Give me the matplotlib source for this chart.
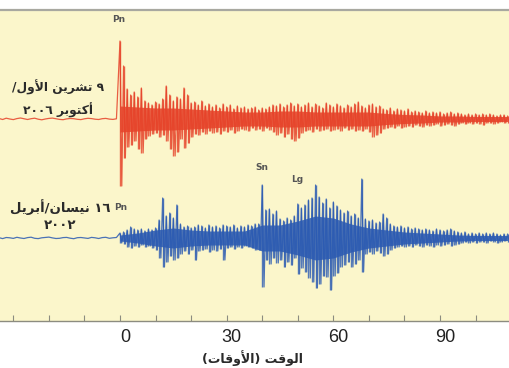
import matplotlib
matplotlib.use("Agg")
import matplotlib.pyplot as plt
import matplotlib.transforms as mtransforms
import numpy as np

# Seismogram envelopes, one bin per second from t = 0 s.
# Values are peak deflections in pixels (up positive, down negative).
red_pre = [0.5, -0.5, 0.8, 0, -0.6, 0.4, 1, 0.2, -0.5, 0.3, 0.8, -0.2, -0.8, 0, 0.6, 0.9, 0.2,
           -0.4, -0.7, 0.1, 0.5, 0.3, -0.3, -0.6, 0.2, 0.7, 0.4, -0.2, -0.5, 0.3, 0.6, -0.1, -0.4, 0.2]
red_up = [78, 53, 30, 24, 27, 22, 31, 18, 16, 14,
          17, 15, 20, 33, 24, 18, 22, 20, 31, 24,
          16, 17, 14, 18, 13, 15, 12, 14, 11, 15,
          12, 14, 10, 13, 11, 12, 10, 11, 12, 9,
          11, 10, 12, 14, 13, 15, 12, 14, 16, 13,
          15, 12, 14, 16, 12, 15, 13, 11, 16, 14,
          12, 15, 13, 11, 14, 12, 15, 17, 13, 11,
          14, 15, 12, 13, 10, 9, 11, 8, 10, 9,
          8, 10, 7, 8, 7, 6, 8, 6, 7, 6,
          7, 5, 6, 7, 5, 6, 5, 4, 5, 4,
          5, 4, 5, 4, 5, 4, 3, 4, 4, 3]
red_lo = [-67, -39, -28, -26, -22, -30, -34, -20, -17, -15,
          -14, -18, -16, -22, -30, -37, -33, -20, -29, -24,
          -18, -15, -16, -13, -15, -12, -14, -13, -15, -12,
          -13, -11, -14, -12, -10, -11, -12, -9, -11, -10,
          -12, -9, -11, -13, -16, -14, -18, -15, -20, -22,
          -19, -14, -12, -11, -13, -10, -12, -11, -10, -12,
          -11, -10, -12, -9, -11, -10, -12, -11, -12, -10,
          -13, -18, -16, -14, -10, -9, -8, -9, -7, -9,
          -8, -7, -8, -6, -7, -8, -6, -7, -6, -5,
          -7, -6, -5, -6, -7, -5, -4, -5, -4, -5,
          -4, -5, -6, -4, -4, -5, -4, -3, -4, -4]
# half-width of the solid core of the trace, every 5 s from t = 0
red_core = [13, 12, 11, 11, 10, 9, 8, 7, 7, 8, 8, 7, 7, 7, 7, 5.5, 4.5, 4, 3, 3, 2.5, 2.5]

blue_pre = [0.3, -0.6, 0.5, 0.2, -0.4, 0.7, 0, -0.5, 0.4, 0.8, -0.3, -0.6, 0.2, 0.5, 0.9, 0.1, -0.5,
            -0.3, 0.4, 0.6, -0.2, -0.7, 0.3, 0.5, 0, -0.4, 0.6, 0.2, -0.5, 0.4, 0.7, -0.3, 0.2, 0.5]
blue_up = [5, 6, 8, 11, 9, 8, 9, 7, 9, 8,
           10, 18, 40, 22, 25, 20, 33, 14, 11, 12,
           10, 11, 13, 12, 10, 13, 11, 12, 10, 13,
           12, 11, 13, 10, 12, 11, 13, 12, 14, 14,
           53, 28, 29, 24, 27, 19, 17, 20, 18, 22,
           34, 30, 33, 38, 40, 53, 41, 35, 39, 30,
           36, 32, 28, 25, 27, 22, 24, 20, 59, 19,
           17, 18, 15, 16, 24, 20, 14, 12, 11, 12,
           10, 11, 9, 10, 9, 8, 9, 8, 7, 9,
           8, 7, 8, 9, 7, 6, 5, 6, 4, 5,
           4, 5, 4, 5, 4, 5, 4, 3, 4, 4]
blue_lo = [-5, -6, -9, -10, -8, -9, -7, -9, -8, -10,
           -12, -20, -29, -24, -18, -22, -20, -16, -13, -16,
           -12, -22, -13, -12, -11, -14, -12, -13, -11, -22,
           -10, -9, -11, -9, -10, -8, -9, -10, -12, -12,
           -49, -22, -26, -20, -25, -22, -29, -24, -27, -20,
           -36, -30, -34, -40, -44, -50, -46, -38, -39, -52,
           -38, -35, -29, -27, -24, -29, -26, -22, -34, -16,
           -14, -16, -13, -15, -18, -16, -12, -10, -9, -8,
           -9, -8, -9, -7, -8, -9, -7, -8, -9, -7,
           -8, -7, -6, -8, -7, -6, -5, -4, -5, -4,
           -5, -4, -4, -5, -3, -4, -5, -4, -3, -4]
blue_core = [3, 5, 8, 10, 8, 7, 7, 7, 13, 13, 17, 22, 20, 14, 10, 8, 6, 5, 4, 3, 2.5, 2.5]

tick_labels = [0, 30, 60, 90]
red_label = "٩ تشرين الأول/\nأكتوبر ٢٠٠٦"
blue_label = "١٦ نيسان/أبريل\n٢٠٠٢"
x_label = "الوقت (الأوقات)"
phases = ["Pn", "Pn", "Sn", "Lg"]

# --- minimal Arabic shaping (matplotlib does no joining / RTL) ---
FORMS = {
    'ا': ('\uFE8D', '\uFE8E', None, None),
    'أ': ('\uFE83', '\uFE84', None, None),
    'ر': ('\uFEAD', '\uFEAE', None, None),
    'و': ('\uFEED', '\uFEEE', None, None),
    'ب': ('\uFE8F', '\uFE90', '\uFE91', '\uFE92'),
    'ت': ('\uFE95', '\uFE96', '\uFE97', '\uFE98'),
    'س': ('\uFEB1', '\uFEB2', '\uFEB3', '\uFEB4'),
    'ش': ('\uFEB5', '\uFEB6', '\uFEB7', '\uFEB8'),
    'ق': ('\uFED5', '\uFED6', '\uFED7', '\uFED8'),
    'ك': ('\uFED9', '\uFEDA', '\uFEDB', '\uFEDC'),
    'ل': ('\uFEDD', '\uFEDE', '\uFEDF', '\uFEE0'),
    'ن': ('\uFEE5', '\uFEE6', '\uFEE7', '\uFEE8'),
    'ي': ('\uFEF1', '\uFEF2', '\uFEF3', '\uFEF4'),
}
LAM_ALEF = {'ا': ('\uFEFB', '\uFEFC'), 'أ': ('\uFEF7', '\uFEF8')}


def shape(s):
    out = []
    i = 0
    while i < len(s):
        c = s[i]
        if c not in FORMS:
            out.append(c)
            i += 1
            continue
        prev = s[i - 1] if i > 0 else ''
        joins_prev = prev in FORMS and FORMS[prev][2] is not None
        if c == 'ل' and i + 1 < len(s) and s[i + 1] in LAM_ALEF:
            out.append(LAM_ALEF[s[i + 1]][1 if joins_prev else 0])
            i += 2
            continue
        nxt = s[i + 1] if i + 1 < len(s) else ''
        joins_next = FORMS[c][2] is not None and nxt in FORMS
        isol, fin, ini, med = FORMS[c]
        if joins_prev and joins_next:
            out.append(med)
        elif joins_prev:
            out.append(fin)
        elif joins_next:
            out.append(ini)
        else:
            out.append(isol)
        i += 1
    return out


def rtl(text):
    lines = []
    for line in text.split("\n"):
        res, run = [], []
        for c in shape(line)[::-1]:
            if c.isdigit():
                run.append(c)
            else:
                res.extend(run[::-1])
                run = []
                res.append({'(': ')', ')': '('}.get(c, c))
        res.extend(run[::-1])
        lines.append(''.join(res))
    return "\n".join(lines)


def draw_trace(ax, pre, up, lo, core, base, color):
    t_pre = np.arange(-len(pre), 0)
    t = np.arange(len(up))
    up = np.asarray(up, float)
    lo = np.asarray(lo, float)
    core = np.asarray(core, float)
    t_core = np.arange(len(core)) * 5
    t_core[-1] = len(up) - 1
    # solid core of the record
    ax.fill_between(t_core, base - core, base + core, color=color, lw=0, alpha=0.85)
    # individual swings and peaks
    x = np.concatenate([t_pre, np.column_stack([t, t + 0.5]).ravel()])
    y = np.concatenate([pre, np.column_stack([up, lo]).ravel()])
    ax.plot(x, y + base, color=color, lw=0.9, alpha=0.85)
    ax.vlines(t, lo + base, up + base, color=color, lw=1.0, alpha=0.8)


W, H = 509, 368
PX_PER_S = 3.556
X0 = 120           # pixel column of t = 0
RED_BASE = -119
BLUE_BASE = -238

fig = plt.figure(figsize=(W / 100, H / 100), dpi=100)
fig.patch.set_facecolor("white")
ax = fig.add_axes([0, 1 - 320.7 / H, 1, (320.7 - 10) / H])
ax.set_facecolor("#fbf6cb")
ax.set_xlim(-X0 / PX_PER_S, (W - X0) / PX_PER_S)
ax.set_ylim(-320.7, -10)

draw_trace(ax, red_pre, red_up, red_lo, red_core, RED_BASE, "#e6432a")
draw_trace(ax, blue_pre, blue_up, blue_lo, blue_core, BLUE_BASE, "#2c5bb2")

for side in ["left", "right"]:
    ax.spines[side].set_visible(False)
ax.spines["top"].set_color("#a8a8a0")
ax.spines["top"].set_linewidth(1.6)
ax.spines["bottom"].set_color("#8c8c80")
ax.spines["bottom"].set_linewidth(1.0)
ax.set_yticks([])

ticks = np.arange(-30, 101, 10)
ax.set_xticks(ticks)
ax.set_xticklabels([str(v) if v in tick_labels else "" for v in ticks],
                   fontsize=13, family="Liberation Sans", color="#222222")
ax.tick_params(axis="x", direction="in", length=4, width=0.8, color="#8c8c80", pad=6)
offset = mtransforms.ScaledTranslation(0.05, 0, fig.dpi_scale_trans)
for lab in ax.get_xticklabels():
    lab.set_transform(lab.get_transform() + offset)


def fxy(px, py):
    return px / W, 1 - py / H


fig.text(*fxy(58, 99), rtl(red_label), ha="center", va="center", fontsize=8.8,
         fontweight="bold", color="#2a2a2a", linespacing=1.6)
fig.text(*fxy(60, 215.5), rtl(blue_label), ha="center", va="center", fontsize=9.5,
         fontweight="bold", color="#2a2a2a", linespacing=1.4)
fig.text(*fxy(252, 358), rtl(x_label), ha="center", va="center", fontsize=9,
         fontweight="bold", color="#2a2a2a")

for name, (px, py) in zip(phases, [(119, 20), (120.5, 207), (262, 168), (297, 179)]):
    fig.text(*fxy(px, py), name, ha="center", va="center", fontsize=6.5,
             fontweight="bold", color="#555555")

fig.savefig("out.png", dpi=100)
